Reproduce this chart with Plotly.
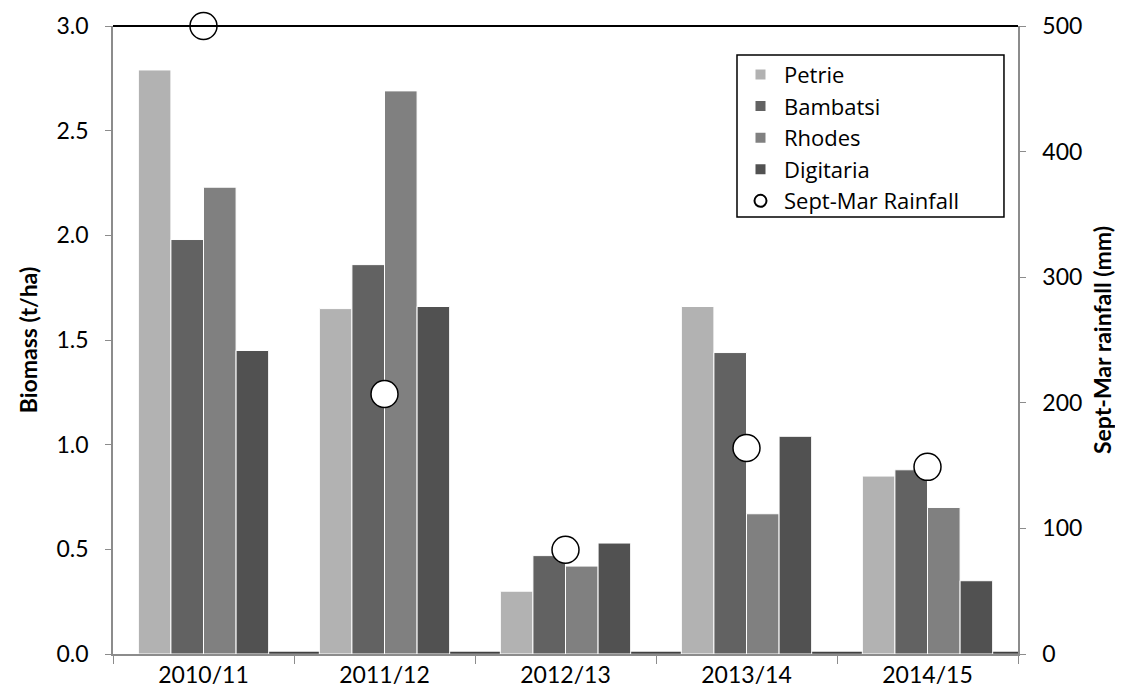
import plotly.graph_objects as go

seasons = ["2010/11", "2011/12", "2012/13", "2013/14", "2014/15"]
petrie = [2.79, 1.65, 0.30, 1.66, 0.85]
bambatsi = [1.98, 1.86, 0.47, 1.44, 0.88]
rhodes = [2.23, 2.69, 0.42, 0.67, 0.70]
digitaria = [1.45, 1.66, 0.53, 1.04, 0.35]
rainfall = [500, 207, 83, 164, 149]

series = [
    ("Petrie", petrie, "#b2b2b2"),
    ("Bambatsi", bambatsi, "#626262"),
    ("Rhodes", rhodes, "#808080"),
    ("Digitaria", digitaria, "#515151"),
]

FONT = "Lato"
LEGFONT = "Open Sans"
fig = go.Figure()
for name, vals, col in series:
    fig.add_trace(go.Bar(
        x=seasons, y=vals, name=name,
        marker=dict(color=col, line=dict(color="white", width=1)),
    ))

fig.add_trace(go.Scatter(
    x=seasons, y=rainfall, name="Sept-Mar Rainfall", yaxis="y2",
    mode="markers", cliponaxis=False,
    marker=dict(symbol="circle", size=27, color="white",
                line=dict(color="black", width=1.5)),
))

fig.update_layout(
    width=1115, height=692,
    margin=dict(l=105, r=105, t=18, b=46),
    paper_bgcolor="white", plot_bgcolor="white",
    font=dict(family=FONT, size=23, color="black"),
    barmode="group", bargap=0.28, bargroupgap=0,
    showlegend=True,
    legend=dict(
        x=0.6895, y=0.956, xanchor="left", yanchor="top",
        bgcolor="rgba(0,0,0,0)", borderwidth=0,
        font=dict(family=LEGFONT, size=22, color="black"), traceorder="normal",
        itemsizing="constant", tracegroupgap=0, itemwidth=37,
    ),
    xaxis=dict(
        type="category", showline=True, linecolor="#8c8c8c", linewidth=1.5,
        ticks="outside", tickson="boundaries", ticklen=8, tickcolor="#8c8c8c",
        tickfont=dict(family=FONT, size=23), showgrid=False, zeroline=False,
        automargin=False,
    ),
    yaxis=dict(
        range=[0, 3], dtick=0.5, tickformat=".1f",
        showline=True, linecolor="#8c8c8c", linewidth=1.5,
        ticks="outside", ticklen=6, tickcolor="#8c8c8c", ticklabelstandoff=12,
        showgrid=False, zeroline=False, automargin=False,
        tickfont=dict(family=FONT, size=23),
        title=dict(text="<b>Biomass (t/ha)</b>", font=dict(family=FONT, size=23), standoff=12),
    ),
    yaxis2=dict(
        range=[0, 500], dtick=100, overlaying="y", side="right",
        showline=True, linecolor="#8c8c8c", linewidth=1.5,
        ticks="outside", ticklen=6, tickcolor="#8c8c8c", ticklabelstandoff=12,
        showgrid=False, zeroline=False, automargin=False,
        tickfont=dict(family=FONT, size=23),
        title=dict(text="<b>Sept-Mar rainfall (mm)</b>", font=dict(family=FONT, size=23), standoff=14),
    ),
    shapes=[
        dict(type="line", xref="paper", yref="paper", x0=0, x1=1, y0=1, y1=1,
             line=dict(color="black", width=2), layer="above"),
        dict(type="line", xref="paper", yref="y", x0=0.03, x1=1, y0=0.006, y1=0.006,
             line=dict(color="#404040", width=2), layer="below"),
        dict(type="rect", xref="paper", yref="paper", x0=0.6895, x1=0.9845,
             y0=0.6959, y1=0.9538, fillcolor="white",
             line=dict(color="black", width=1.5), layer="above"),
    ],
)

fig.write_html("out.html")
